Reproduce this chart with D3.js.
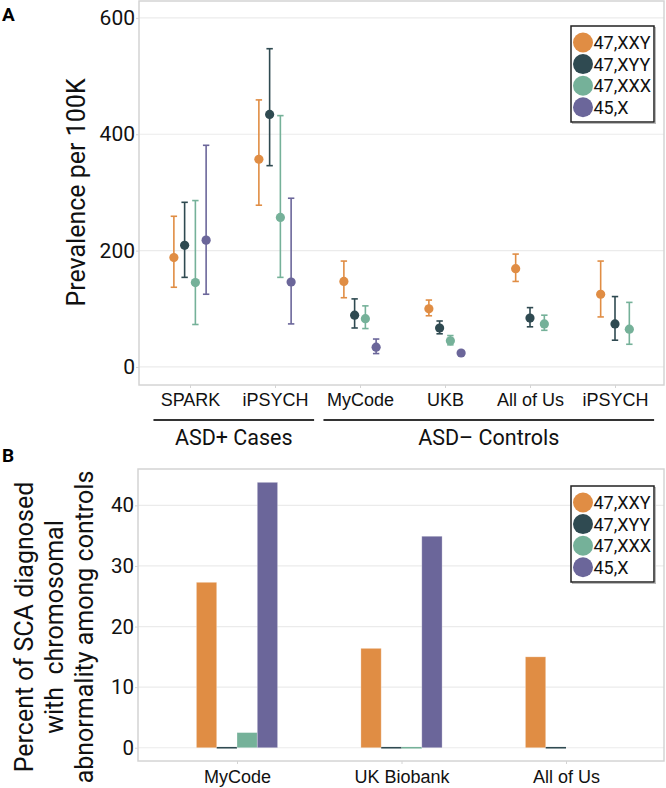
<!DOCTYPE html>
<html>
<head>
<meta charset="utf-8">
<script src="https://cdn.jsdelivr.net/npm/d3@7"></script>
<style>
  html, body { margin: 0; padding: 0; background: #fff; }
  svg { display: block; font-family: Roboto, "Noto Sans", sans-serif; }
</style>
</head>
<body>
<svg id="chart" width="666" height="788"></svg>
<script>
// ---------- DATA ----------
const seriesNames = ["47,XXY", "47,XYY", "47,XXX", "45,X"];
const seriesColors = ["#E08D44", "#2F4A51", "#75B199", "#6B669A"];

// Panel A: prevalence per 100K (point, lower CI, upper CI)
const cohortIdsA = ["SPARK", "iPSYCH_case", "MyCode", "UKB", "AllOfUs", "iPSYCH_ctrl"];
const cohortLabelsA = ["SPARK", "iPSYCH", "MyCode", "UKB", "All of Us", "iPSYCH"];
const xxyPrev = [188, 357, 147, 100, 169, 125];
const xxyLow  = [137, 278, 119, 88, 147, 86];
const xxyHigh = [259, 459, 182, 115, 194, 182];
const xyyPrev = [209, 434, 89, 67, 84, 74];
const xyyLow  = [154, 346, 67, 57, 69, 46];
const xyyHigh = [283, 547, 117, 79, 102, 121];
const xxxPrev = [145, 257, 83, 45, 74, 65];
const xxxLow  = [73, 154, 66, 38, 63, 39];
const xxxHigh = [286, 432, 105, 54, 89, 111];
const x45Prev = [218, 146, 34, 24, null, null];
const x45Low  = [125, 74, 23, 21, null, null];
const x45High = [381, 290, 48, 27, null, null];
const yTicksA = [0, 200, 400, 600];
const groupLabels = ["ASD+ Cases", "ASD\u2013 Controls"];
const groupFrom = [0, 2];
const groupTo = [1, 5];

// Panel B: percent of SCA diagnosed
const cohortsB = ["MyCode", "UK Biobank", "All of Us"];
const pctXXY = [27.3, 16.4, 15.0];
const pctXYY = [0, 0, 0];
const pctXXX = [2.5, 0, null];
const pct45X = [43.8, 34.9, null];
const yTicksB = [0, 10, 20, 30, 40];

// ---------- BUILD ----------
const prevA = [xxyPrev, xyyPrev, xxxPrev, x45Prev];
const lowA = [xxyLow, xyyLow, xxxLow, x45Low];
const highA = [xxyHigh, xyyHigh, xxxHigh, x45High];
const pctB = [pctXXY, pctXYY, pctXXX, pct45X];

const svg = d3.select("#chart");
const gridColor = "#EBEBEB";
const borderColor = "#D4D4D4";

function panelFrame(g, x0, x1, y0, y1, yScale, ticks, tickFont) {
  g.selectAll(null).data(ticks).enter().append("line")
    .attr("x1", x0).attr("x2", x1)
    .attr("y1", d => yScale(d)).attr("y2", d => yScale(d))
    .attr("stroke", gridColor).attr("stroke-width", 1.2);
  const ax = g.append("g").attr("transform", `translate(${x0},0)`)
    .call(d3.axisLeft(yScale).tickValues(ticks).tickSize(3).tickPadding(1).tickFormat(d3.format("d")));
  ax.select(".domain").remove();
  ax.selectAll(".tick line").attr("stroke", borderColor);
  ax.selectAll(".tick text").attr("font-size", tickFont).attr("fill", "#111")
    .attr("font-family", "Roboto, sans-serif");
}

// ===== Panel A =====
const A = { x0: 139, x1: 664, y0: 1, y1: 385 };
const yA = d3.scaleLinear().domain([-31, 629]).range([A.y1, A.y0]);
const xA = d3.scalePoint().domain(cohortIdsA).range([A.x0 + 51, A.x1 - 49]);
const gA = svg.append("g");
panelFrame(gA, A.x0, A.x1, A.y0, A.y1, yA, yTicksA, 21);

const axA = gA.append("g").attr("transform", `translate(0,${A.y1})`)
  .call(d3.axisBottom(xA).tickSize(3).tickPadding(7).tickFormat((d, i) => cohortLabelsA[i]));
axA.select(".domain").remove();
axA.selectAll(".tick line").attr("stroke", borderColor);
axA.selectAll(".tick text").attr("font-size", 18).attr("fill", "#111").attr("dy", null)
  .attr("dominant-baseline", "alphabetic").attr("y", 21);

const dodgeWidth = 43;
const pointsA = [];
cohortIdsA.forEach((c, ci) => {
  const present = seriesNames.map((s, si) => si).filter(si => prevA[si][ci] != null);
  present.forEach((si, k) => {
    const off = (k - (present.length - 1) / 2) * dodgeWidth / present.length;
    pointsA.push({ cx: xA(c) + off, v: prevA[si][ci], lo: lowA[si][ci], hi: highA[si][ci], color: seriesColors[si] });
  });
});
const pg = gA.append("g");
pointsA.forEach(p => {
  pg.append("line").attr("x1", p.cx).attr("x2", p.cx).attr("y1", yA(p.lo)).attr("y2", yA(p.hi))
    .attr("stroke", p.color).attr("stroke-width", 1.6);
  [p.lo, p.hi].forEach(v => {
    pg.append("line").attr("x1", p.cx - 3.2).attr("x2", p.cx + 3.2).attr("y1", yA(v)).attr("y2", yA(v))
      .attr("stroke", p.color).attr("stroke-width", 1.6);
  });
  pg.append("circle").attr("cx", p.cx).attr("cy", yA(p.v)).attr("r", 4.6).attr("fill", p.color);
});

gA.append("rect").attr("x", A.x0).attr("y", A.y0).attr("width", A.x1 - A.x0).attr("height", A.y1 - A.y0)
  .attr("fill", "none").attr("stroke", borderColor).attr("stroke-width", 1.5);

const stepA = xA.step();
groupLabels.forEach((lab, gi) => {
  const xs = xA(cohortIdsA[groupFrom[gi]]) - stepA * 0.43;
  const xe = xA(cohortIdsA[groupTo[gi]]) + stepA * 0.46;
  gA.append("line").attr("x1", xs).attr("x2", xe).attr("y1", 420).attr("y2", 420)
    .attr("stroke", "#333").attr("stroke-width", 2.2);
  gA.append("text").attr("x", (xs + xe) / 2).attr("y", 445).attr("text-anchor", "middle")
    .attr("font-size", 21.5).attr("fill", "#111").text(lab);
});

svg.append("text").attr("transform", "translate(85,192.5) rotate(-90)")
  .attr("text-anchor", "middle").attr("font-size", 25).attr("fill", "#111").text("Prevalence per 100K");

// ===== Panel B =====
const B = { x0: 138, x1: 664, y0: 469, y1: 761 };
const yB = d3.scaleLinear().domain([-2.19, 46]).range([B.y1, B.y0]);
const xB = d3.scalePoint().domain(cohortsB).range([B.x0 + 99, B.x1 - 98]);
const slot = d3.scaleBand().domain(seriesNames).range([-40.6, 40.6]);
const gB = svg.append("g");
panelFrame(gB, B.x0, B.x1, B.y0, B.y1, yB, yTicksB, 20.5);

const axB = gB.append("g").attr("transform", `translate(0,${B.y1})`)
  .call(d3.axisBottom(xB).tickSize(3).tickPadding(7));
axB.select(".domain").remove();
axB.selectAll(".tick line").attr("stroke", borderColor);
axB.selectAll(".tick text").attr("font-size", 18).attr("fill", "#111").attr("dy", null)
  .attr("dominant-baseline", "alphabetic").attr("y", 22);

const barsB = [];
cohortsB.forEach((c, ci) => {
  seriesNames.forEach((s, si) => {
    const v = pctB[si][ci];
    if (v != null) barsB.push({ x: xB(c) + slot(s), w: slot.bandwidth(), v, color: seriesColors[si] });
  });
});
barsB.forEach(b => {
  if (b.v > 0) {
    gB.append("rect").attr("x", b.x).attr("y", yB(b.v)).attr("width", b.w).attr("height", yB(0) - yB(b.v))
      .attr("fill", b.color).attr("stroke", "#fff").attr("stroke-opacity", 0.35).attr("stroke-width", 0.8);
  } else {
    gB.append("line").attr("x1", b.x).attr("x2", b.x + b.w).attr("y1", yB(b.v)).attr("y2", yB(b.v))
      .attr("stroke", b.color).attr("stroke-width", 1.6);
  }
});

gB.append("rect").attr("x", B.x0).attr("y", B.y0).attr("width", B.x1 - B.x0).attr("height", B.y1 - B.y0)
  .attr("fill", "none").attr("stroke", borderColor).attr("stroke-width", 1.5);

const yLabB = ["Percent of SCA diagnosed", "with  chromosomal", "abnormality among controls"];
yLabB.forEach((t, i) => {
  svg.append("text").attr("transform", `translate(${33 + i * 30},627) rotate(-90)`)
    .attr("text-anchor", "middle").attr("font-size", 25).attr("fill", "#111")
    .style("white-space", "pre").text(t);
});

// ===== Legends =====
function legend(x, y) {
  const g = svg.append("g").attr("transform", `translate(${x},${y})`);
  g.append("rect").attr("x", 1.5).attr("y", 1.5).attr("width", 83).attr("height", 96)
    .attr("fill", "none").attr("stroke", "#bbb").attr("stroke-width", 1);
  g.append("rect").attr("x", 0).attr("y", 0).attr("width", 83).attr("height", 96)
    .attr("fill", "#fff").attr("stroke", "#222").attr("stroke-width", 1.5);
  seriesNames.forEach((s, i) => {
    const cy = 16.5 + i * 21.6;
    g.append("circle").attr("cx", 12).attr("cy", cy).attr("r", 10).attr("fill", seriesColors[i]);
    g.append("text").attr("x", 22.5).attr("y", cy).attr("dy", "0.36em")
      .attr("font-size", 18).attr("fill", "#111").text(s);
  });
}
legend(571, 26);
legend(571, 486);

svg.append("text").attr("x", 2).attr("y", 21).attr("font-size", 19).attr("font-weight", "bold").attr("fill", "#000").text("A");
svg.append("text").attr("x", 2).attr("y", 462).attr("font-size", 19).attr("font-weight", "bold").attr("fill", "#000").text("B");
</script>
</body>
</html>
